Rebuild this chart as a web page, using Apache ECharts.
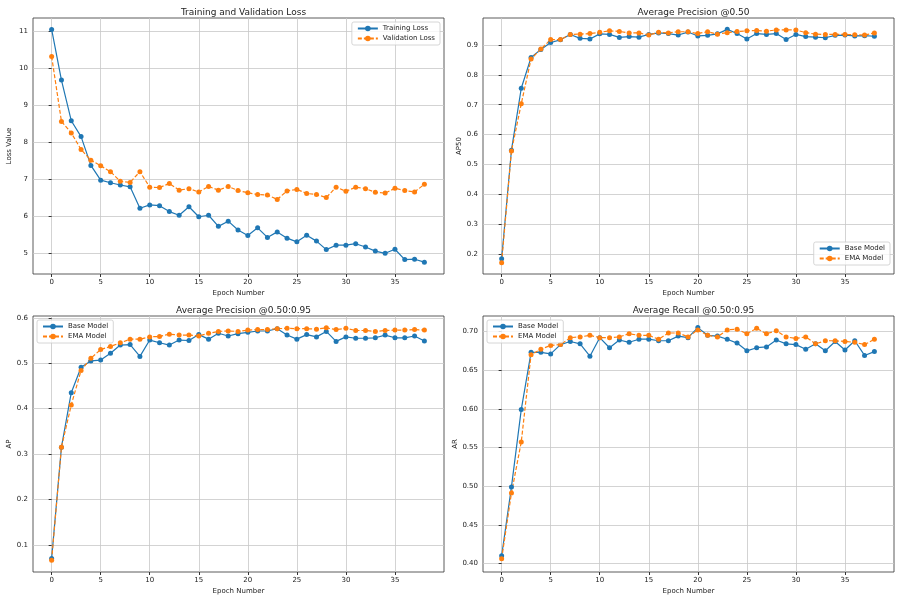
<!DOCTYPE html>
<html lang="en">
<head>
  <meta charset="utf-8">
  <title>Training Metrics</title>
  <style>
    * { margin: 0; padding: 0; }
    #chart-container { position: relative; width: 900px; height: 600px; overflow: hidden; background: #fff; }
  </style>
</head>
<body>
  <div id="chart-container"></div>
  <script src="https://cdn.jsdelivr.net/npm/echarts@6/dist/echarts.min.js"></script>
  <script>
    var epochs = [];
    for (var i = 0; i < 39; i++) epochs.push(i);

    var trainLoss = [11.05, 9.68, 8.58, 8.15, 7.37, 6.97, 6.90, 6.84, 6.79, 6.21, 6.30, 6.28, 6.12, 6.02, 6.25, 5.98, 6.02, 5.72, 5.86, 5.62, 5.47, 5.68, 5.42, 5.57, 5.40, 5.30, 5.48, 5.32, 5.09, 5.21, 5.21, 5.25, 5.16, 5.05, 4.99, 5.10, 4.82, 4.83, 4.75];
    var valLoss = [10.32, 8.56, 8.25, 7.80, 7.51, 7.36, 7.20, 6.94, 6.91, 7.20, 6.78, 6.77, 6.88, 6.70, 6.74, 6.65, 6.80, 6.70, 6.80, 6.69, 6.63, 6.58, 6.57, 6.45, 6.68, 6.72, 6.61, 6.58, 6.50, 6.78, 6.67, 6.78, 6.74, 6.64, 6.62, 6.75, 6.69, 6.65, 6.86];

    var ap50Base = [0.185, 0.548, 0.755, 0.858, 0.885, 0.908, 0.917, 0.935, 0.922, 0.920, 0.937, 0.935, 0.925, 0.928, 0.926, 0.935, 0.940, 0.938, 0.933, 0.943, 0.930, 0.932, 0.937, 0.952, 0.938, 0.920, 0.938, 0.935, 0.938, 0.918, 0.935, 0.928, 0.926, 0.924, 0.932, 0.933, 0.930, 0.931, 0.929];
    var ap50Ema = [0.172, 0.545, 0.703, 0.853, 0.886, 0.918, 0.918, 0.935, 0.936, 0.938, 0.942, 0.947, 0.945, 0.940, 0.940, 0.933, 0.942, 0.940, 0.944, 0.944, 0.938, 0.944, 0.936, 0.941, 0.945, 0.947, 0.948, 0.946, 0.950, 0.950, 0.950, 0.941, 0.936, 0.935, 0.935, 0.935, 0.934, 0.933, 0.940];

    var apBase = [0.070, 0.315, 0.435, 0.491, 0.505, 0.507, 0.522, 0.540, 0.541, 0.515, 0.551, 0.545, 0.540, 0.551, 0.550, 0.563, 0.553, 0.566, 0.560, 0.565, 0.568, 0.571, 0.571, 0.576, 0.562, 0.553, 0.563, 0.558, 0.570, 0.548, 0.558, 0.555, 0.555, 0.556, 0.562, 0.556, 0.556, 0.560, 0.549];
    var apEma = [0.066, 0.315, 0.408, 0.484, 0.511, 0.530, 0.537, 0.545, 0.553, 0.553, 0.558, 0.559, 0.564, 0.562, 0.562, 0.560, 0.566, 0.570, 0.571, 0.570, 0.573, 0.574, 0.574, 0.576, 0.577, 0.576, 0.576, 0.575, 0.578, 0.574, 0.577, 0.572, 0.572, 0.570, 0.572, 0.573, 0.573, 0.574, 0.573];

    var arBase = [0.410, 0.499, 0.599, 0.673, 0.673, 0.671, 0.683, 0.687, 0.684, 0.668, 0.692, 0.679, 0.689, 0.686, 0.690, 0.690, 0.688, 0.688, 0.694, 0.692, 0.705, 0.695, 0.694, 0.690, 0.685, 0.675, 0.679, 0.680, 0.689, 0.684, 0.683, 0.677, 0.684, 0.675, 0.687, 0.676, 0.688, 0.669, 0.674];
    var arEma = [0.406, 0.491, 0.557, 0.670, 0.677, 0.682, 0.683, 0.692, 0.693, 0.695, 0.692, 0.692, 0.693, 0.697, 0.695, 0.695, 0.690, 0.698, 0.698, 0.693, 0.702, 0.695, 0.693, 0.702, 0.703, 0.697, 0.704, 0.697, 0.701, 0.693, 0.691, 0.693, 0.684, 0.688, 0.688, 0.687, 0.686, 0.683, 0.690];

    var xTicks = [0, 5, 10, 15, 20, 25, 30, 35];

    var panels = [
      { title: 'Training and Validation Loss', yName: 'Loss Value', left: 33, top: 18, width: 411, height: 256,
        yMin: 4.43, yMax: 11.36, yTicks: [5, 6, 7, 8, 9, 10, 11], dec: 0,
        names: ['Training Loss', 'Validation Loss'], data: [trainLoss, valLoss], legend: 'tr' },
      { title: 'Average Precision @0.50', yName: 'AP50', left: 483, top: 18, width: 411, height: 256,
        yMin: 0.134, yMax: 0.99, yTicks: [0.2, 0.3, 0.4, 0.5, 0.6, 0.7, 0.8, 0.9], dec: 1,
        names: ['Base Model', 'EMA Model'], data: [ap50Base, ap50Ema], legend: 'br' },
      { title: 'Average Precision @0.50:0.95', yName: 'AP', left: 33, top: 316, width: 411, height: 256,
        yMin: 0.04, yMax: 0.604, yTicks: [0.1, 0.2, 0.3, 0.4, 0.5, 0.6], dec: 1,
        names: ['Base Model', 'EMA Model'], data: [apBase, apEma], legend: 'tl' },
      { title: 'Average Recall @0.50:0.95', yName: 'AR', left: 483, top: 316, width: 411, height: 256,
        yMin: 0.389, yMax: 0.72, yTicks: [0.40, 0.45, 0.50, 0.55, 0.60, 0.65, 0.70], dec: 2,
        names: ['Base Model', 'EMA Model'], data: [arBase, arEma], legend: 'tl' }
    ];

    var colors = ['#1f77b4', '#ff7f0e'];
    var font = 'DejaVu Sans';
    var option = { backgroundColor: '#fff', animation: false, title: [], grid: [], xAxis: [], yAxis: [], legend: [], series: [] };

    panels.forEach(function (p, k) {
      option.title.push({ text: p.title, left: p.left + p.width / 2, top: p.top - 15, textAlign: 'center',
        textStyle: { fontFamily: font, fontSize: 9, fontWeight: 'normal', color: '#222' } });
      option.grid.push({ left: p.left, top: p.top, width: p.width, height: p.height, show: true,
        borderColor: '#333', borderWidth: 0.8, containLabel: false });
      option.xAxis.push({ type: 'value', gridIndex: k, min: -1.9, max: 40,
        name: 'Epoch Number', nameLocation: 'middle', nameGap: 16,
        nameTextStyle: { fontFamily: font, fontSize: 7, color: '#222' },
        axisLine: { show: false },
        axisTick: { show: true, length: 3, customValues: xTicks, lineStyle: { color: '#333' } },
        axisLabel: { customValues: xTicks, fontFamily: font, fontSize: 7, color: '#222', margin: 5 },
        splitLine: { show: true, lineStyle: { color: '#c8c8c8', width: 0.8 } } });
      option.yAxis.push({ type: 'value', gridIndex: k, min: p.yMin, max: p.yMax,
        name: p.yName, nameLocation: 'middle', nameGap: p.dec === 2 ? 24 : 20,
        nameTextStyle: { fontFamily: font, fontSize: 7, color: '#222' },
        axisLine: { show: false },
        axisTick: { show: true, length: 3, customValues: p.yTicks, lineStyle: { color: '#333' } },
        axisLabel: { customValues: p.yTicks, fontFamily: font, fontSize: 7, color: '#222', margin: 5,
          formatter: function (v) { return v.toFixed(p.dec); } },
        splitLine: { show: true, lineStyle: { color: '#c8c8c8', width: 0.8 } } });
      var lg = { orient: 'vertical', itemWidth: 20, itemHeight: 7, itemGap: 3,
        backgroundColor: 'rgba(255,255,255,0.8)', borderColor: '#ccc', borderWidth: 0.8, borderRadius: 2, padding: [3, 5],
        textStyle: { fontFamily: font, fontSize: 7, color: '#222' },
        data: p.names.map(function (n, j) { return { name: n }; }) };
      if (p.legend === 'tr') { lg.right = 900 - p.left - p.width + 4; lg.top = p.top + 4; }
      if (p.legend === 'br') { lg.right = 900 - p.left - p.width + 4; lg.top = p.top + p.height - 32; }
      if (p.legend === 'tl') { lg.left = p.left + 4; lg.top = p.top + 4; }
      option.legend.push(lg);
      p.names.forEach(function (n, j) {
        option.series.push({ type: 'line', name: n, xAxisIndex: k, yAxisIndex: k,
          data: p.data[j].map(function (v, i) { return [epochs[i], v]; }),
          symbol: 'circle', symbolSize: 5, showSymbol: true,
          lineStyle: { color: colors[j], width: 1.2, type: j === 1 ? [4, 2] : 'solid' },
          itemStyle: { color: colors[j] } });
      });
    });

    var chart = echarts.init(document.getElementById('chart-container'), null, { renderer: 'canvas' });
    chart.setOption(option);
  </script>
</body>
</html>
